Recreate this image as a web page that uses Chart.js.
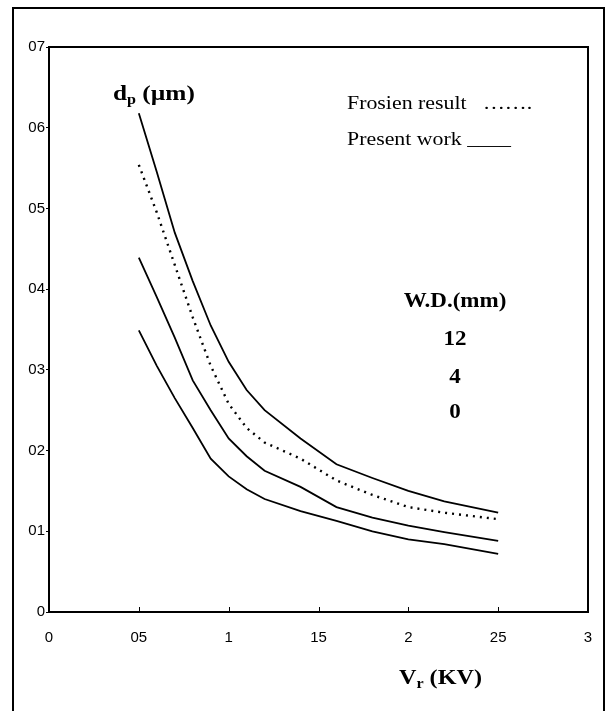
<!DOCTYPE html>
<html>
<head>
<meta charset="utf-8">
<script src="https://cdn.jsdelivr.net/npm/chart.js@4"></script>
<style>
  html, body { margin: 0; padding: 0; background: #fff; }
  #wrap { width: 608px; height: 711px; }
</style>
</head>
<body>
<div id="wrap"><canvas id="dpChart"></canvas></div>
<script>
// accelerating voltage Vr (kV)
const vrValues = [0.5, 0.6, 0.7, 0.8, 0.9, 1.0, 1.1, 1.2, 1.4, 1.6, 1.8, 2.0, 2.2, 2.5];
// probe diameter dp (um), present work, per working distance
const wd12 = [0.618, 0.545, 0.470, 0.410, 0.355, 0.310, 0.275, 0.250, 0.215, 0.183, 0.166, 0.150, 0.137, 0.123];
const wd4 = [0.439, 0.390, 0.340, 0.287, 0.250, 0.215, 0.193, 0.175, 0.155, 0.130, 0.117, 0.107, 0.099, 0.088];
const wd0 = [0.349, 0.305, 0.265, 0.228, 0.190, 0.168, 0.152, 0.140, 0.125, 0.113, 0.100, 0.090, 0.084, 0.072];
// Frosien result
const frosien = [0.554, 0.495, 0.430, 0.365, 0.305, 0.258, 0.228, 0.210, 0.190, 0.163, 0.145, 0.130, 0.123, 0.115];

const xTickValues = [0, 0.5, 1, 1.5, 2, 2.5, 3];
const xTickLabels = ['0', '05', '1', '15', '2', '25', '3'];
const yTickValues = [0, 0.1, 0.2, 0.3, 0.4, 0.5, 0.6, 0.7];
const yTickLabels = ['0', '01', '02', '03', '04', '05', '06', '07'];

function toPoints(ys) {
    return vrValues.map((v, i) => ({ x: v, y: ys[i] }));
}

const serif = '"Liberation Serif", "Times New Roman", serif';
// the original figure text is a little stretched sideways
const stretch = 1.15;

function wideText(ctx, text, x, y, font, align) {
    ctx.save();
    ctx.font = font;
    ctx.textAlign = align || 'left';
    ctx.translate(x, y);
    ctx.scale(stretch, 1);
    ctx.fillText(text, 0, 0);
    ctx.restore();
}

// writes "main" + subscript + "rest" starting at x
function subLabel(ctx, x, y, main, sub, rest, size) {
    ctx.save();
    ctx.translate(x, y);
    ctx.scale(stretch, 1);
    let cx = 0;
    ctx.font = 'bold ' + size + 'px ' + serif;
    ctx.fillText(main, cx, 0);
    cx += ctx.measureText(main).width;
    ctx.font = 'bold ' + Math.round(size * 0.65) + 'px ' + serif;
    ctx.fillText(sub, cx, 4);
    cx += ctx.measureText(sub).width;
    ctx.font = 'bold ' + size + 'px ' + serif;
    ctx.fillText(rest, cx, 0);
    ctx.restore();
}

// box, inner ticks and text labels
const decorations = {
    id: 'decorations',
    afterDraw(chart) {
        const ctx = chart.ctx;
        const a = chart.chartArea;
        const xs = chart.scales.x;
        ctx.save();
        ctx.strokeStyle = '#000';
        // outer frame
        ctx.lineWidth = 2;
        ctx.strokeRect(13, 8, 591, 720);
        // top and right sides of the plot box
        ctx.beginPath();
        ctx.moveTo(a.left, a.top);
        ctx.lineTo(a.right, a.top);
        ctx.lineTo(a.right, a.bottom);
        ctx.stroke();
        // x ticks pointing inward
        ctx.lineWidth = 1;
        xTickValues.forEach(v => {
            const px = Math.round(xs.getPixelForValue(v)) + 0.5;
            ctx.beginPath();
            ctx.moveTo(px, a.bottom);
            ctx.lineTo(px, a.bottom - 5);
            ctx.stroke();
        });

        ctx.fillStyle = '#000';
        ctx.textBaseline = 'alphabetic';
        // axis names
        subLabel(ctx, 113, 100, 'd', 'p', ' (\u00b5m)', 22);
        subLabel(ctx, 399, 684, 'V', 'r', ' (KV)', 21);

        // legend notes
        wideText(ctx, 'Frosien result   \u2026\u2026.', 347, 109, '19px ' + serif);
        wideText(ctx, 'Present work ____', 347, 145, '19px ' + serif);

        // working distances
        const wdFont = 'bold 20px ' + serif;
        wideText(ctx, 'W.D.(mm)', 455, 307, wdFont, 'center');
        wideText(ctx, '12', 455, 345, wdFont, 'center');
        wideText(ctx, '4', 455, 383, wdFont, 'center');
        wideText(ctx, '0', 455, 418, wdFont, 'center');
        ctx.restore();
    }
};

new Chart(document.getElementById('dpChart'), {
    type: 'line',
    data: {
        datasets: [
            { label: 'W.D. 12 mm', data: toPoints(wd12), borderColor: '#000', borderWidth: 1.8 },
            { label: 'Frosien result', data: toPoints(frosien), borderColor: '#000', borderWidth: 2.4, borderDash: [2, 5] },
            { label: 'W.D. 4 mm', data: toPoints(wd4), borderColor: '#000', borderWidth: 1.8 },
            { label: 'W.D. 0 mm', data: toPoints(wd0), borderColor: '#000', borderWidth: 1.8 }
        ]
    },
    options: {
        responsive: true,
        maintainAspectRatio: false,
        animation: false,
        layout: { padding: { top: 47, right: 20, left: 0, bottom: 0 } },
        elements: { point: { radius: 0 }, line: { tension: 0, fill: false } },
        plugins: { legend: { display: false }, tooltip: { enabled: false } },
        scales: {
            x: {
                type: 'linear',
                min: 0,
                max: 3,
                afterBuildTicks: s => { s.ticks = xTickValues.map(v => ({ value: v })); },
                afterFit: s => { s.height = 99; },
                grid: { display: false },
                border: { display: true, color: '#000', width: 2 },
                ticks: {
                    padding: 9,
                    color: '#000',
                    maxRotation: 0,
                    font: { family: '"Liberation Sans", Arial, sans-serif', size: 15 },
                    callback: (v, i) => xTickLabels[i]
                }
            },
            y: {
                type: 'linear',
                min: 0,
                max: 0.7,
                afterBuildTicks: s => { s.ticks = yTickValues.map(v => ({ value: v })); },
                afterFit: s => { s.width = 49; },
                grid: { display: true, drawOnChartArea: false, tickLength: 3, color: '#000' },
                border: { display: true, color: '#000', width: 2 },
                ticks: {
                    padding: 1,
                    color: '#000',
                    font: { family: '"Liberation Sans", Arial, sans-serif', size: 15 },
                    callback: (v, i) => yTickLabels[i]
                }
            }
        }
    },
    plugins: [decorations]
});
</script>
</body>
</html>
